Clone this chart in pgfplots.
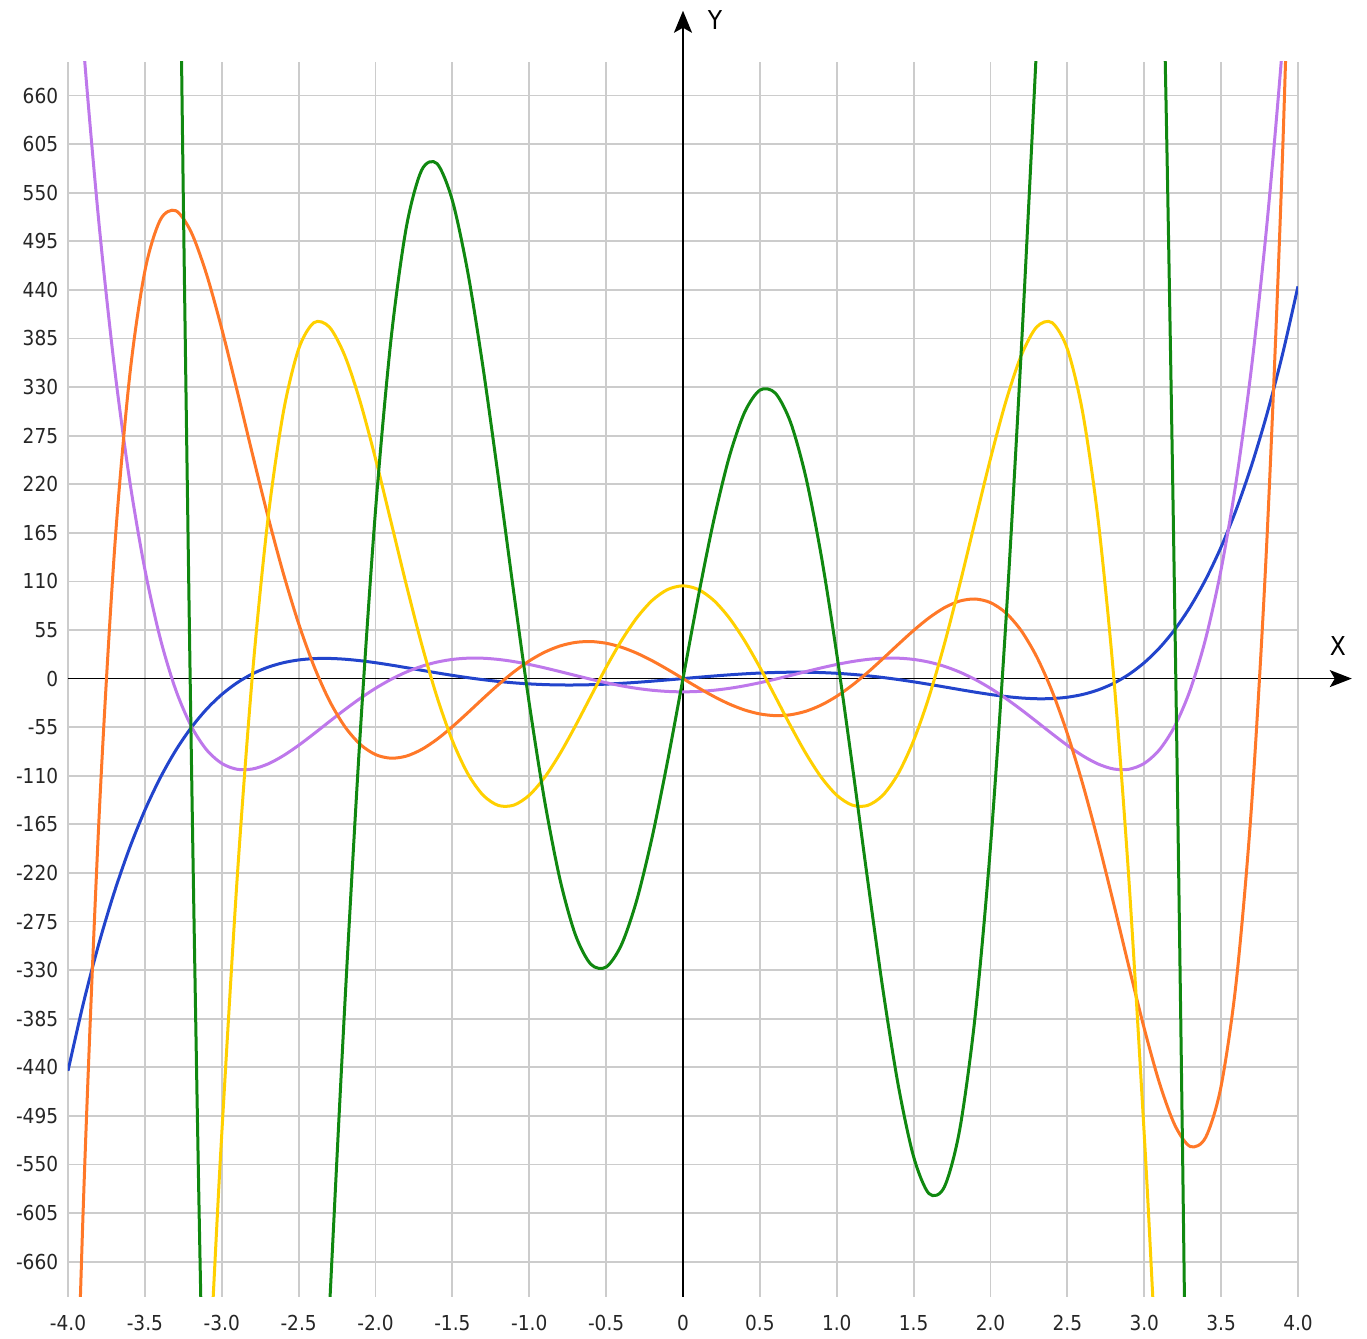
\documentclass[border=0pt]{standalone}
\usepackage{pgfplots}
\pgfplotsset{compat=1.18}
\usepackage{fontspec}
\setmainfont{DejaVu Sans Condensed}
\usetikzlibrary{arrows.meta}
\definecolor{cblue}{RGB}{34,68,204}
\definecolor{cpurple}{RGB}{190,120,235}
\definecolor{corange}{RGB}{255,120,40}
\definecolor{cyellow}{RGB}{255,208,0}
\definecolor{cgreen}{RGB}{16,136,16}
\begin{document}
\begin{tikzpicture}
\useasboundingbox (-34pt,-21pt) rectangle (649.5pt,648.5pt);
\begin{axis}[
  at={(0,0)}, anchor=south west,
  scale only axis, width=615pt, height=617.5pt,
  xmin=-4, xmax=4, ymin=-700, ymax=698,
  clip mode=individual,
  axis line style={draw=none},
  major tick length=0pt, tick style={draw=none},
  grid=major, grid style={line width=0.9pt, color=gray!40},
  xtick={-4,-3.5,-3,-2.5,-2,-1.5,-1,-0.5,0,0.5,1,1.5,2,2.5,3,3.5,4},
  xticklabels={-4.0,-3.5,-3.0,-2.5,-2.0,-1.5,-1.0,-0.5,0,0.5,1.0,1.5,2.0,2.5,3.0,3.5,4.0},
  ytick={-660,-605,-550,-495,-440,-385,-330,-275,-220,-165,-110,-55,0,55,110,165,220,275,330,385,440,495,550,605,660},
  yticklabels={-660,-605,-550,-495,-440,-385,-330,-275,-220,-165,-110,-55,0,55,110,165,220,275,330,385,440,495,550,605,660},
  ticklabel style={font=\fontsize{10.3}{12}\selectfont, text=black!85},
  yticklabel style={anchor=east, inner sep=0pt, xshift=-4.75pt},
  xticklabel style={anchor=north, inner sep=0pt, yshift=-9pt},
  every axis plot/.append style={line width=1.5pt, smooth, no markers},
]
\draw[line width=0.75pt, -{Stealth[length=11pt,width=8.5pt,inset=2.5pt]}] (axis cs:-4,0) -- (axis cs:4.35,0);
\draw[line width=1.1pt, -{Stealth[length=11pt,width=9pt,inset=2.5pt]}] (axis cs:0,-700) -- (axis cs:0,756);
\node[font=\fontsize{13}{15}\selectfont] at (axis cs:4.26,37) {X};
\node[font=\fontsize{13}{15}\selectfont] at (axis cs:0.208,745) {Y};

% He5
\addplot[cblue] coordinates {
(-4.0,-444) (-3.9,-367.55) (-3.8,-300.63) (-3.7,-242.41) (-3.6,-192.10) (-3.5,-148.97) (-3.4,-112.31) (-3.3,-81.48) (-3.2,-55.86) (-3.1,-34.88) (-3.0,-18) (-2.9,-4.72) (-2.8,5.42) (-2.7,12.84) (-2.6,17.95) (-2.5,21.09) (-2.4,22.61) (-2.3,22.81) (-2.2,21.94) (-2.1,20.27) (-2.0,18) (-1.9,15.33) (-1.8,12.42) (-1.7,9.43) (-1.6,6.47) (-1.5,3.66) (-1.4,1.06) (-1.3,-1.24) (-1.2,-3.21) (-1.1,-4.80) (-1.0,-6) (-0.9,-6.80) (-0.8,-7.21) (-0.7,-7.24) (-0.6,-6.92) (-0.5,-6.28) (-0.4,-5.37) (-0.3,-4.23) (-0.2,-2.92) (-0.1,-1.49)
(0,0)
(0.1,1.49) (0.2,2.92) (0.3,4.23) (0.4,5.37) (0.5,6.28) (0.6,6.92) (0.7,7.24) (0.8,7.21) (0.9,6.80) (1.0,6) (1.1,4.80) (1.2,3.21) (1.3,1.24) (1.4,-1.06) (1.5,-3.66) (1.6,-6.47) (1.7,-9.43) (1.8,-12.42) (1.9,-15.33) (2.0,-18) (2.1,-20.27) (2.2,-21.94) (2.3,-22.81) (2.4,-22.61) (2.5,-21.09) (2.6,-17.95) (2.7,-12.84) (2.8,-5.42) (2.9,4.72) (3.0,18) (3.1,34.88) (3.2,55.86) (3.3,81.48) (3.4,112.31) (3.5,148.97) (3.6,192.10) (3.7,242.41) (3.8,300.63) (3.9,367.55) (4.0,444)
};
% He6
\addplot[cpurple] coordinates {
(-4.0,961) (-3.9,718.03) (-3.8,518.03) (-3.7,355.54) (-3.6,225.56) (-3.5,123.58) (-3.4,45.50) (-3.3,-12.36) (-3.2,-53.32) (-3.1,-80.33) (-3.0,-96) (-2.9,-102.65) (-2.8,-102.29) (-2.7,-96.69) (-2.6,-87.35) (-2.5,-75.55) (-2.4,-62.36) (-2.3,-48.68) (-2.2,-35.20) (-2.1,-22.51) (-2.0,-11) (-1.9,-0.99) (-1.8,7.35) (-1.7,13.91) (-1.6,18.67) (-1.5,21.70) (-1.4,23.11) (-1.3,23.04) (-1.2,21.68) (-1.1,19.26) (-1.0,16) (-0.9,12.14) (-0.8,7.92) (-0.7,3.57) (-0.6,-0.70) (-0.5,-4.67) (-0.4,-8.18) (-0.3,-11.07) (-0.2,-13.22) (-0.1,-14.55)
(0,-15)
(0.1,-14.55) (0.2,-13.22) (0.3,-11.07) (0.4,-8.18) (0.5,-4.67) (0.6,-0.70) (0.7,3.57) (0.8,7.92) (0.9,12.14) (1.0,16) (1.1,19.26) (1.2,21.68) (1.3,23.04) (1.4,23.11) (1.5,21.70) (1.6,18.67) (1.7,13.91) (1.8,7.35) (1.9,-0.99) (2.0,-11) (2.1,-22.51) (2.2,-35.20) (2.3,-48.68) (2.4,-62.36) (2.5,-75.55) (2.6,-87.35) (2.7,-96.69) (2.8,-102.29) (2.9,-102.65) (3.0,-96) (3.1,-80.33) (3.2,-53.32) (3.3,-12.36) (3.4,45.50) (3.5,123.58) (3.6,225.56) (3.7,355.54) (3.8,518.03) (3.9,718.03) (4.0,961)
};
% He7
\addplot[corange] coordinates {
(-4.0,-1180) (-3.9,-595.02) (-3.8,-164.73) (-3.7,138.98) (-3.6,340.60) (-3.5,461.29) (-3.4,519.18) (-3.3,529.70) (-3.2,505.82) (-3.1,458.31) (-3.0,396) (-2.9,326.01) (-2.8,253.92) (-2.7,184.02) (-2.6,119.43) (-2.5,62.30) (-2.4,13.98) (-2.3,-24.89) (-2.2,-54.21) (-2.1,-74.35) (-2.0,-86) (-1.9,-90.10) (-1.8,-87.77) (-1.7,-80.23) (-1.6,-68.72) (-1.5,-54.49) (-1.4,-38.72) (-1.3,-22.49) (-1.2,-6.77) (-1.1,7.62) (-1.0,20) (-0.9,29.88) (-0.8,36.91) (-0.7,40.93) (-0.6,41.93) (-0.5,40.02) (-0.4,35.49) (-0.3,28.72) (-0.2,20.17) (-0.1,10.40)
(0,0)
(0.1,-10.40) (0.2,-20.17) (0.3,-28.72) (0.4,-35.49) (0.5,-40.02) (0.6,-41.93) (0.7,-40.93) (0.8,-36.91) (0.9,-29.88) (1.0,-20) (1.1,-7.62) (1.2,6.77) (1.3,22.49) (1.4,38.72) (1.5,54.49) (1.6,68.72) (1.7,80.23) (1.8,87.77) (1.9,90.10) (2.0,86) (2.1,74.35) (2.2,54.21) (2.3,24.89) (2.4,-13.98) (2.5,-62.30) (2.6,-119.43) (2.7,-184.02) (2.8,-253.92) (2.9,-326.01) (3.0,-396) (3.1,-458.31) (3.2,-505.82) (3.3,-529.70) (3.4,-519.18) (3.5,-461.29) (3.6,-340.60) (3.7,-138.98) (3.8,164.73) (3.9,595.02) (4.0,1180)
};
% He8
\addplot[cyellow] coordinates {
(-3.2,-1245.36) (-3.1,-858.45) (-3.05,-680.98) (-3.0,-516) (-2.9,-226.89) (-2.8,5.07) (-2.7,179.98) (-2.6,300.92) (-2.5,373.07) (-2.4,402.97) (-2.3,397.97) (-2.2,365.70) (-2.1,313.68) (-2.0,249) (-1.9,178.09) (-1.8,106.55) (-1.7,39.05) (-1.6,-20.76) (-1.5,-70.18) (-1.4,-107.53) (-1.3,-132.01) (-1.2,-143.65) (-1.1,-143.20) (-1.0,-132) (-0.9,-111.87) (-0.8,-84.96) (-0.7,-53.62) (-0.6,-20.27) (-0.5,12.69) (-0.4,43.06) (-0.3,68.88) (-0.2,88.53) (-0.1,100.82)
(0,105)
(0.1,100.82) (0.2,88.53) (0.3,68.88) (0.4,43.06) (0.5,12.69) (0.6,-20.27) (0.7,-53.62) (0.8,-84.96) (0.9,-111.87) (1.0,-132) (1.1,-143.20) (1.2,-143.65) (1.3,-132.01) (1.4,-107.53) (1.5,-70.18) (1.6,-20.76) (1.7,39.05) (1.8,106.55) (1.9,178.09) (2.0,249) (2.1,313.68) (2.2,365.70) (2.3,397.97) (2.4,402.97) (2.5,373.07) (2.6,300.92) (2.7,179.98) (2.8,5.07) (2.9,-226.89) (3.0,-516) (3.05,-680.98) (3.1,-858.45) (3.2,-1245.36)
};
% He9
\addplot[cgreen] coordinates {
(-3.3,1245.25) (-3.25,545.06) (-3.2,-61.39) (-3.15,-576.88) (-3.1,-1005.24) (-3.05,-1351.17) (-3.0,-1620) (-2.9,-1950.10) (-2.8,-2045.58) (-2.7,-1958.11) (-2.6,-1737.83) (-2.5,-1431.10) (-2.4,-1078.99) (-2.3,-716.24) (-2.2,-370.83) (-2.1,-63.90) (-2.0,190) (-1.9,382.44) (-1.8,510.39) (-1.7,575.45) (-1.6,582.99) (-1.5,541.21) (-1.4,460.29) (-1.3,351.52) (-1.2,226.53) (-1.1,96.58) (-1.0,-28) (-0.9,-138.33) (-0.8,-227.33) (-0.7,-289.93) (-0.6,-323.24) (-0.5,-326.53) (-0.4,-301.17) (-0.3,-250.39) (-0.2,-179.04) (-0.1,-93.24)
(0,0)
(0.1,93.24) (0.2,179.04) (0.3,250.39) (0.4,301.17) (0.5,326.53) (0.6,323.24) (0.7,289.93) (0.8,227.33) (0.9,138.33) (1.0,28) (1.1,-96.58) (1.2,-226.53) (1.3,-351.52) (1.4,-460.29) (1.5,-541.21) (1.6,-582.99) (1.7,-575.45) (1.8,-510.39) (1.9,-382.44) (2.0,-190) (2.1,63.90) (2.2,370.83) (2.3,716.24) (2.4,1078.99) (2.5,1431.10) (2.6,1737.83) (2.7,1958.11) (2.8,2045.58) (2.9,1950.10) (3.0,1620) (3.05,1351.17) (3.1,1005.24) (3.15,576.88) (3.2,61.39) (3.25,-545.06) (3.3,-1245.25)
};
\end{axis}
\end{tikzpicture}
\end{document}
